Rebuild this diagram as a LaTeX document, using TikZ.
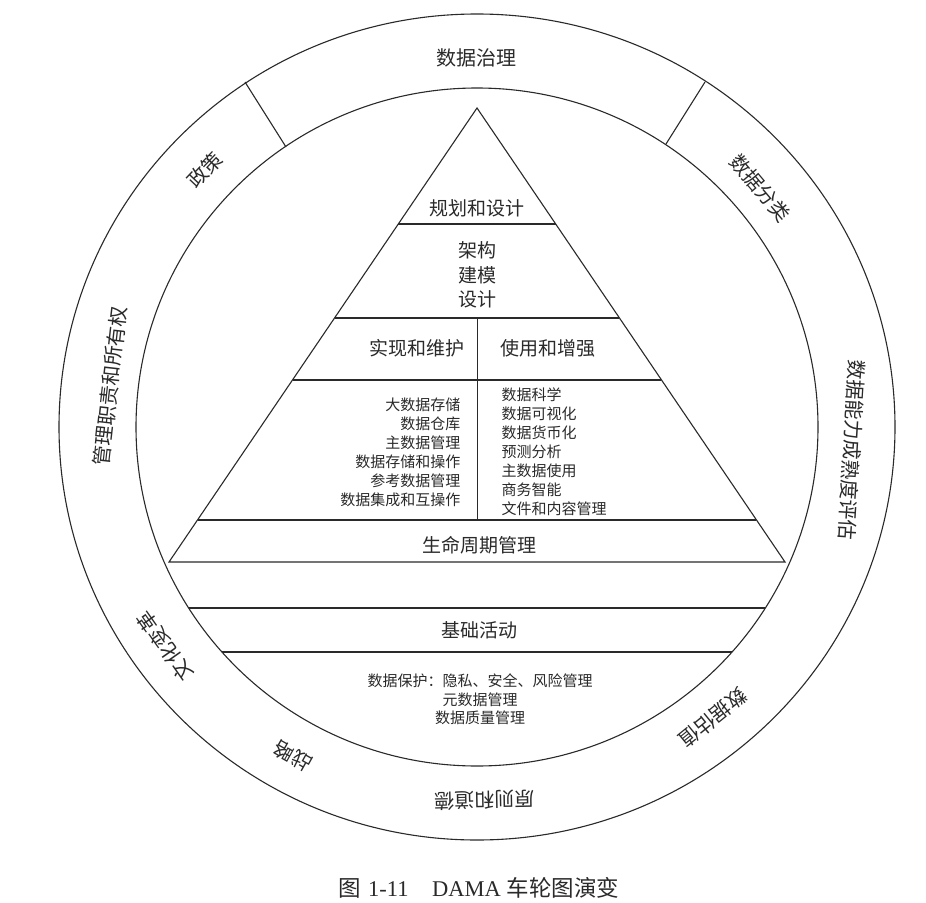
\documentclass[tikz,border=0pt]{standalone}
\usepackage{fontspec}
\setmainfont{Liberation Serif}
\newfontfamily\cjk{Noto Sans CJK SC}
\definecolor{ink}{HTML}{2A2A2A}
\begin{document}
\begin{tikzpicture}[x=1pt,y=-1pt,line width=1.1pt,
  every node/.style={text=ink,inner sep=0pt},
  ring/.style={font=\cjk\fontsize{20}{22}\selectfont},
  big/.style={font=\cjk\fontsize{19}{24.5}\selectfont,align=center},
  small/.style={font=\cjk\fontsize{15}{19}\selectfont},
  capt/.style={font=\fontsize{22.5}{26}\selectfont}]
\useasboundingbox (0,0) rectangle (926,902);
\fill[white] (0,0) rectangle (926,902);
% wheel
\coordinate (c) at (477,427);
\draw[ink] (c) ellipse [x radius=418pt, y radius=413pt];
\draw[ink] (c) ellipse [x radius=341pt, y radius=339pt];
\coordinate (dlo) at (245,82);  \coordinate (dli) at (286,147);
\coordinate (dro) at (705,82);  \coordinate (dri) at (666,144);
\draw[ink] (dli) -- (dlo);
\draw[ink] (dri) -- (dro);
% foundation chords
\begin{scope}
  \clip (c) ellipse [x radius=341pt, y radius=339pt];
  \draw[ink] (100,608) -- (860,608);
  \draw[ink] (100,652) -- (860,652);
\end{scope}
% pyramid
\coordinate (apex) at (477,108);
\coordinate (bl) at (169,562);
\coordinate (br) at (785,562);
\draw[ink,line join=miter] (apex) -- (bl) -- (br) -- cycle;
\draw[ink] (398.3,224) -- (555.7,224);
\draw[ink] (334.6,318) -- (619.4,318);
\draw[ink] (292.6,380) -- (661.4,380);
\draw[ink] (197.7,520) -- (756.3,520);
\draw[ink] (477.5,318) -- (477.5,520);
% ring labels
\node[ring] (gov) at (476,58) {数据治理};
\node[ring,rotate=46.6] (pol) at (205,170) {政策};
\node[ring,rotate=-49.8] (cls) at (760,188) {数据分类};
\node[ring,rotate=83.6] (own) at (110,386) {管理职责和所有权};
\node[ring,rotate=-93.5] (mat) at (852,450) {数据能力成熟度评估};
\node[ring,rotate=-140.9] (val) at (713,718) {数据估值};
\node[ring,rotate=181.2] (eth) at (485,800) {原则和道德};
\node[ring,rotate=150.8] (str) at (293,756) {战略};
\node[ring,rotate=125.1] (cul) at (165,646) {文化变革};
% pyramid labels
\node[big] (plan) at (477,208) {规划和设计};
\node[big] (arch) at (477,275) {架构\\建模\\设计};
\node[big] (impl) at (417,348) {实现和维护};
\node[big] (use) at (548,348) {使用和增强};
\node[small,anchor=east,align=right] (ll) at (461,452.5) {大数据存储\\数据仓库\\主数据管理\\数据存储和操作\\参考数据管理\\数据集成和互操作};
\node[small,anchor=west,align=left] (rl) at (501,452) {数据科学\\数据可视化\\数据货币化\\预测分析\\主数据使用\\商务智能\\文件和内容管理};
\node[big] (life) at (479,545) {生命周期管理};
\node[big] (base) at (479,630) {基础活动};
\node[small,align=center,font=\cjk\fontsize{15}{18.5}\selectfont] (prot) at (480,699.5) {数据保护：隐私、安全、风险管理\\元数据管理\\数据质量管理};
% caption
\node[capt] (cap) at (479,888) {{\cjk\fontsize{22.5}{26}\selectfont 图}\hspace{0.3em}1-11\hspace{1.05em}DAMA {\cjk\fontsize{22.5}{26}\selectfont 车轮图演变}};
\end{tikzpicture}
\end{document}
